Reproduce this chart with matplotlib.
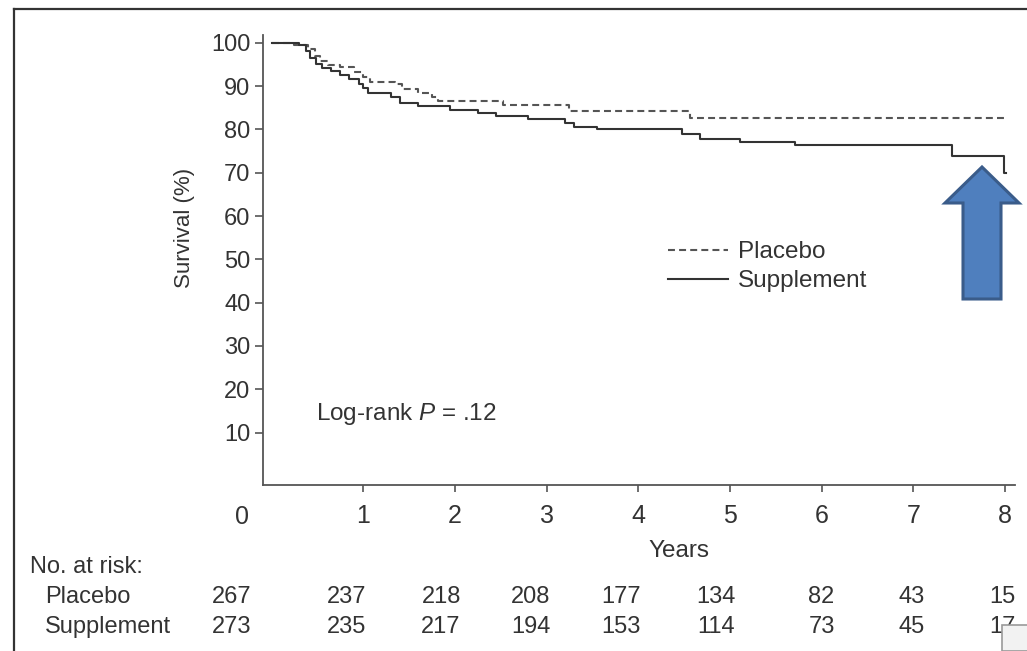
import numpy as np
import matplotlib.pyplot as plt
from matplotlib.patches import Polygon, Rectangle
from matplotlib.lines import Line2D
from matplotlib.transforms import blended_transform_factory

plt.rcParams['font.family'] = ['Liberation Sans', 'DejaVu Sans']
plt.rcParams['mathtext.fontset'] = 'custom'
plt.rcParams['mathtext.rm'] = 'Liberation Sans'
plt.rcParams['mathtext.it'] = 'Liberation Sans:italic'
plt.rcParams['lines.scale_dashes'] = False

# Kaplan-Meier steps (years, survival %)
placebo_t = [0, 0.25, 0.40, 0.47, 0.53, 0.62, 0.75, 0.90, 1.00, 1.07, 1.35, 1.42,
             1.60, 1.75, 1.82, 2.52, 3.25, 4.56, 8.00]
placebo_s = [100, 99.6, 98.5, 97.0, 95.8, 94.8, 94.3, 93.2, 92.0, 91.0, 90.6, 89.4,
             88.5, 87.6, 86.6, 85.6, 84.2, 82.6, 82.6]

supp_t = [0, 0.30, 0.38, 0.42, 0.48, 0.55, 0.65, 0.75, 0.85, 0.95, 1.00, 1.05, 1.30,
          1.40, 1.60, 1.95, 2.25, 2.45, 2.80, 3.20, 3.30, 3.55, 4.48, 4.67, 5.11,
          5.71, 7.42, 7.99, 8.01]
supp_s = [100, 99.5, 98.0, 96.5, 95.0, 94.2, 93.5, 92.5, 91.6, 90.5, 89.5, 88.3, 87.5,
          86.2, 85.3, 84.5, 83.8, 83.0, 82.3, 81.5, 80.6, 80.1, 78.9, 77.9, 77.2,
          76.4, 73.8, 70.0, 70.0]

year_ticks = [1, 2, 3, 4, 5, 6, 7, 8]
surv_ticks = [10, 20, 30, 40, 50, 60, 70, 80, 90, 100]

risk_placebo = [267, 237, 218, 208, 177, 134, 82, 43, 15]
risk_supp = [273, 235, 217, 194, 153, 114, 73, 45, 17]
risk_cols = [-0.44, 0.82, 1.85, 2.83, 3.81, 4.85, 6.0, 6.98, 7.97]  # column centres, years

W, H = 1027, 651
fig = plt.figure(figsize=(W / 100, H / 100), dpi=100)
ax = fig.add_axes([263 / W, 1 - 485 / H, (1015 - 263) / W, (485 - 35) / H])

ink = '#333333'
ax.plot(placebo_t, placebo_s, drawstyle='steps-post', color='#555555', lw=1.5,
        linestyle=(0, (5, 3)), label='Placebo')
ax.plot(supp_t, supp_s, drawstyle='steps-post', color=ink, lw=1.5, label='Supplement')

ax.set_xlim(-0.093, 8.11)
ax.set_ylim(-2.1, 101.8)
ax.set_xticks(year_ticks)
ax.set_yticks(surv_ticks)
ax.tick_params(axis='x', labelsize=18, length=5, width=1.2, color='#555555',
               labelcolor=ink, pad=9)
ax.tick_params(axis='y', labelsize=17, length=6, width=1.2, color='#555555',
               labelcolor=ink, pad=3)
for s in ['top', 'right']:
    ax.spines[s].set_visible(False)
for s in ['left', 'bottom']:
    ax.spines[s].set_color('#555555')
    ax.spines[s].set_linewidth(1.3)

# lone "0" sits left of the origin in the original
ax.text(-0.32, -0.045, '0', transform=blended_transform_factory(ax.transData, ax.transAxes),
        ha='center', va='top', fontsize=18, color=ink)

ax.text(0.553, -0.122, 'Years', transform=ax.transAxes, ha='center', va='top',
        fontsize=17.5, color=ink)
ax.text(-0.105, 0.571, 'Survival (%)', transform=ax.transAxes, rotation=90,
        ha='center', va='center', fontsize=16, color=ink)

ax.text(0.485, 14.3, r'Log-rank $P$ = .12', ha='left', va='center', fontsize=17.5, color=ink)

ax.legend(loc='upper left', bbox_to_anchor=(0.539, 0.542), frameon=False,
          fontsize=17.5, handlelength=2.45, handletextpad=0.4, labelspacing=0.3,
          borderpad=0, borderaxespad=0, labelcolor=ink)

# number at risk table
tr = blended_transform_factory(ax.transData, fig.transFigure)
fig.text(30 / W, 1 - 567 / H, 'No. at risk:', ha='left', va='center', fontsize=17, color=ink)
fig.text(45 / W, 1 - 597 / H, 'Placebo', ha='left', va='center', fontsize=17, color=ink)
fig.text(45 / W, 1 - 627 / H, 'Supplement', ha='left', va='center', fontsize=17, color=ink)
for xc, a, b in zip(risk_cols, risk_placebo, risk_supp):
    ax.text(xc, 1 - 597 / H, str(a), transform=tr, ha='center', va='center',
            fontsize=17, color=ink, clip_on=False)
    ax.text(xc, 1 - 627 / H, str(b), transform=tr, ha='center', va='center',
            fontsize=17, color=ink, clip_on=False)

# slide frame
fig.add_artist(Line2D([14 / W, 14 / W], [0, 1 - 9 / H], color='#333333', lw=1.6))
fig.add_artist(Line2D([14 / W, 1], [1 - 9 / H, 1 - 9 / H], color='#333333', lw=1.6))

# blue block arrow pointing at the end of the supplement curve
arrow_px = [(982, 167), (945, 203), (963, 203), (963, 299), (1001, 299), (1001, 203), (1019, 203)]
fig.add_artist(Polygon([(x / W, 1 - y / H) for x, y in arrow_px], closed=True,
                       facecolor='#4F7FBE', edgecolor='#3A5C8A', lw=2.2,
                       transform=fig.transFigure))

# small pasted-image corner at bottom right
fig.add_artist(Rectangle((1002 / W, 0), 30 / W, 26 / H, facecolor='#f2f2f2',
                         edgecolor='#9a9a9a', lw=1.2, transform=fig.transFigure))

fig.savefig('out.png', dpi=100)
